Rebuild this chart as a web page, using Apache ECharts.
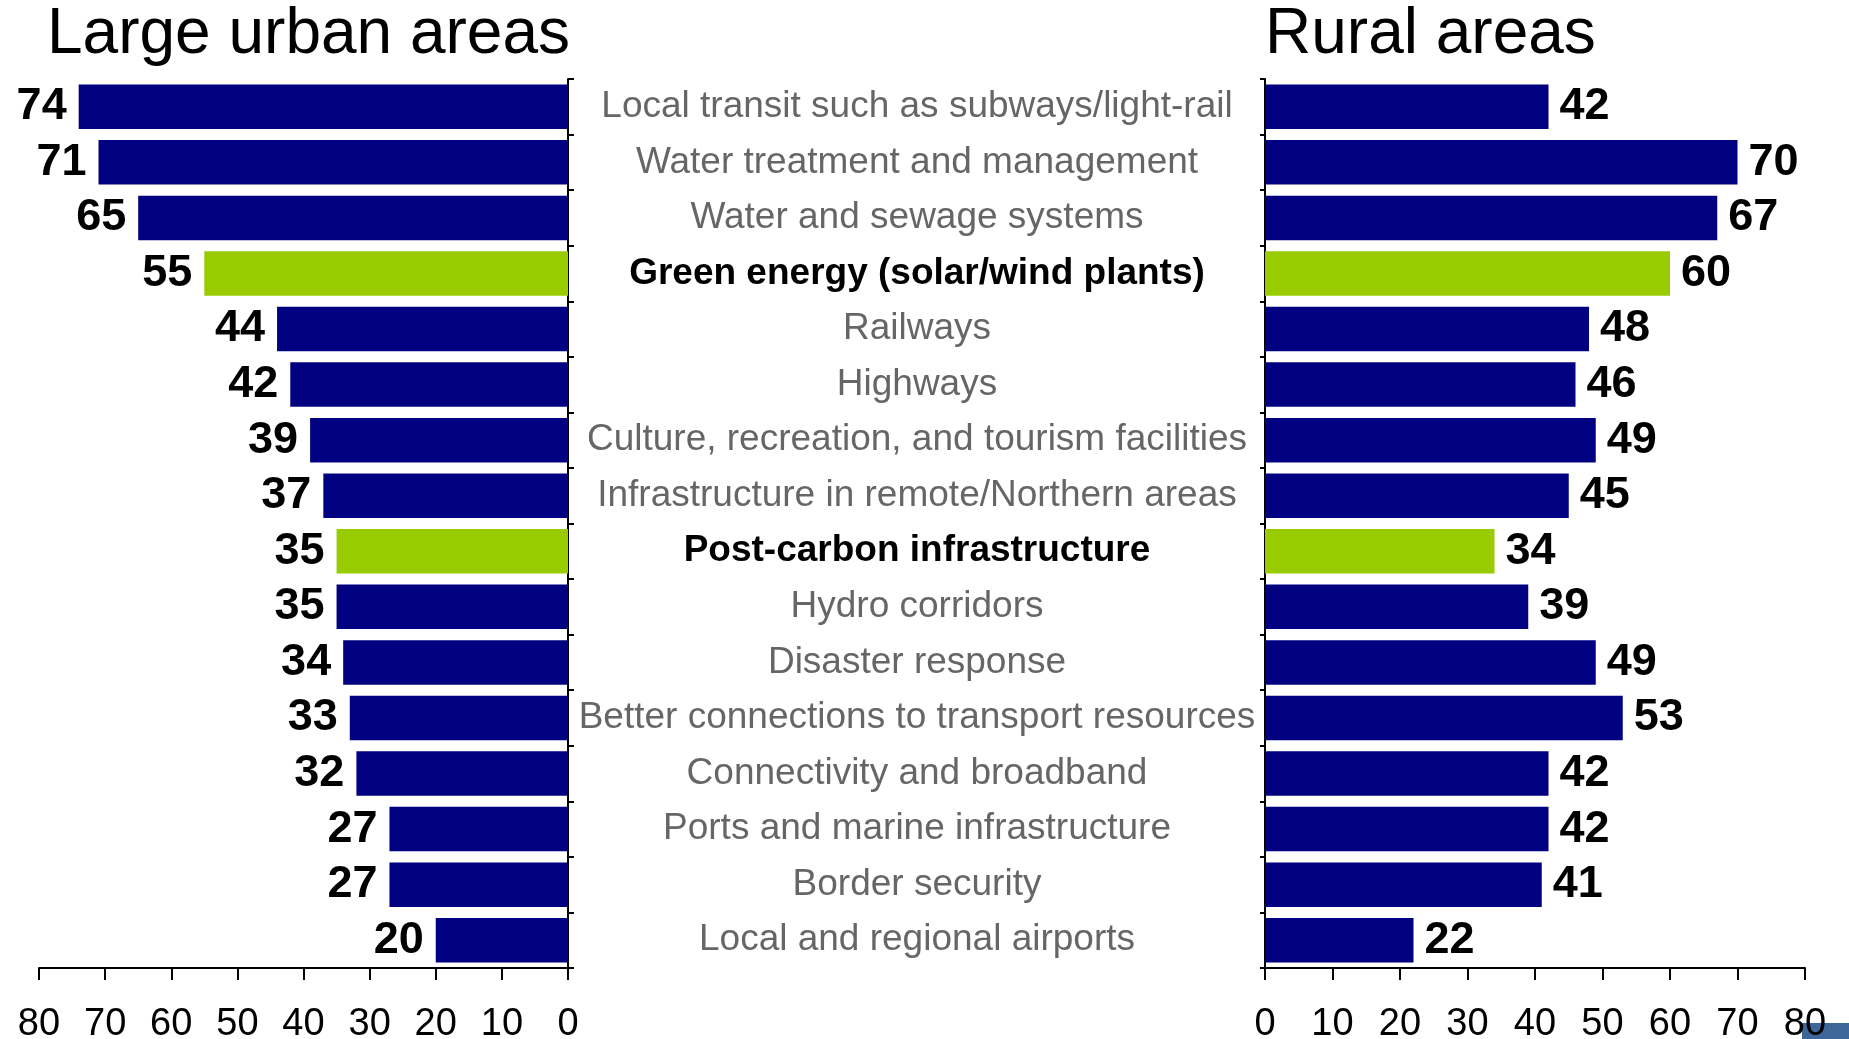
<!DOCTYPE html>
<html>
<head>
<meta charset="utf-8">
<script src="https://cdn.jsdelivr.net/npm/echarts@6/dist/echarts.min.js"></script>
<style>
  html, body { margin: 0; padding: 0; background: #fff; }
  #main { width: 1849px; height: 1039px; }
</style>
</head>
<body>
<div id="main"></div>
<script>
const categories = [
    "Local transit such as subways/light-rail",
    "Water treatment and management",
    "Water and sewage systems",
    "Green energy (solar/wind plants)",
    "Railways",
    "Highways",
    "Culture, recreation, and tourism facilities",
    "Infrastructure in remote/Northern areas",
    "Post-carbon infrastructure",
    "Hydro corridors",
    "Disaster response",
    "Better connections to transport resources",
    "Connectivity and broadband",
    "Ports and marine infrastructure",
    "Border security",
    "Local and regional airports"
];
const urbanValues = [74, 71, 65, 55, 44, 42, 39, 37, 35, 35, 34, 33, 32, 27, 27, 20];
const ruralValues = [42, 70, 67, 60, 48, 46, 49, 45, 34, 39, 49, 53, 42, 42, 41, 22];
const highlighted = ["Green energy (solar/wind plants)", "Post-carbon infrastructure"];
const axisTicks = [0, 10, 20, 30, 40, 50, 60, 70, 80];

const navy = "#000080";
const green = "#99CC00";
const font = "Liberation Sans";

const mainEl = document.getElementById("main");
let charts = echarts.init(mainEl);

const barData = (vals) => vals.map((v, i) => ({
    value: v,
    itemStyle: { color: highlighted.includes(categories[i]) ? green : navy }
}));

const valueAxis = (gridIndex, inverse) => ({
    type: "value",
    gridIndex: gridIndex,
    inverse: inverse,
    min: axisTicks[0],
    max: axisTicks[axisTicks.length - 1],
    interval: 10,
    splitLine: { show: false },
    axisLine: { show: true, lineStyle: { color: "#000", width: 2 } },
    axisTick: { show: true, length: 12, lineStyle: { color: "#000", width: 2 } },
    axisLabel: { color: "#000", fontSize: 38, fontFamily: font, margin: 38 }
});

const valueLabel = (pos, dist) => ({
    show: true,
    position: pos,
    distance: dist,
    color: "#000",
    fontSize: 45,
    fontWeight: "bold",
    fontFamily: font
});

const option = {
    animation: false,
    backgroundColor: "#fff",
    grid: [
        { left: 39, top: 79, width: 529, height: 889, outerBoundsMode: "none" },
        { left: 1265, top: 79, width: 540, height: 889, outerBoundsMode: "none" }
    ],
    xAxis: [valueAxis(0, true), valueAxis(1, false)],
    yAxis: [
        {
            type: "category",
            gridIndex: 0,
            position: "right",
            inverse: true,
            data: categories,
            axisLine: { show: true, lineStyle: { color: "#000", width: 2 } },
            axisTick: { show: true, length: 6, lineStyle: { color: "#000", width: 2 } },
            axisLabel: {
                interval: 0,
                align: "center",
                margin: 349,
                formatter: (v) => highlighted.includes(v) ? "{b|" + v + "}" : "{n|" + v + "}",
                rich: {
                    n: { fontSize: 37, fontFamily: font, color: "#666666" },
                    b: { fontSize: 37, fontFamily: font, color: "#000", fontWeight: "bold" }
                }
            }
        },
        {
            type: "category",
            gridIndex: 1,
            position: "left",
            inverse: true,
            data: categories,
            axisLine: { show: true, lineStyle: { color: "#000", width: 2 } },
            axisTick: { show: true, length: 5, lineStyle: { color: "#000", width: 2 } },
            axisLabel: { show: false }
        }
    ],
    series: [
        {
            name: "Large urban areas",
            type: "bar",
            xAxisIndex: 0,
            yAxisIndex: 0,
            barCategoryGap: "20%",
            data: barData(urbanValues),
            label: valueLabel("left", 12)
        },
        {
            name: "Rural areas",
            type: "bar",
            xAxisIndex: 1,
            yAxisIndex: 1,
            barCategoryGap: "20%",
            data: barData(ruralValues),
            label: valueLabel("right", 11)
        }
    ],
    graphic: [
        {
            type: "text",
            left: 47,
            top: 3,
            style: { text: "Large urban areas", fontSize: 64, fontFamily: font, fill: "#000" }
        },
        {
            type: "text",
            left: 1265,
            top: 3,
            style: { text: "Rural areas", fontSize: 64, fontFamily: font, fill: "#000" }
        },
        {
            type: "rect",
            left: 1802,
            top: 1023,
            shape: { width: 47, height: 16 },
            style: { fill: "#3F6698" }
        }
    ]
};

charts.setOption(option);
</script>
</body>
</html>
